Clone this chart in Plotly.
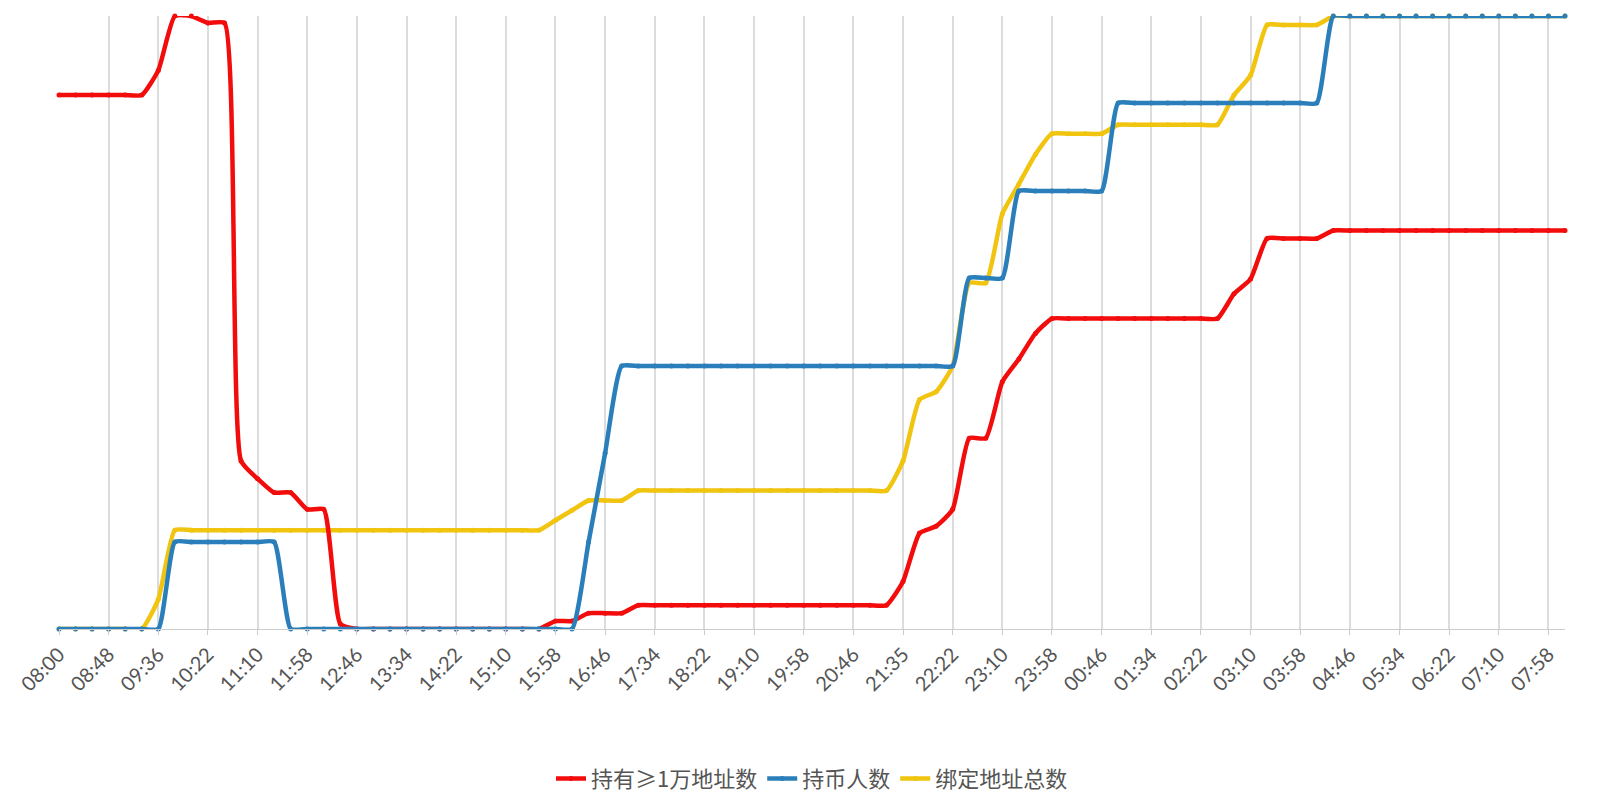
import plotly.graph_objects as go

tick_labels = ["08:00","08:48","09:36","10:22","11:10","11:58","12:46","13:34","14:22","15:10",
               "15:58","16:46","17:34","18:22","19:10","19:58","20:46","21:35","22:22","23:10",
               "23:58","00:46","01:34","02:22","03:10","03:58","04:46","05:34","06:22","07:10","07:58"]
tick_positions = [3*i for i in range(len(tick_labels))]

red = [540,540,540,540,540,540,565,620,620,613,613,170,152,138,138,121,121,5,0,0,
       0,0,0,0,0,0,0,0,0,0,8,8,16,16,16,24,24,24,24,24,
       24,24,24,24,24,24,24,24,24,24,24,48,97,104,121,193,193,250,273,299,
       314,314,314,314,314,314,314,314,314,314,314,339,354,395,395,395,395,403,403,403,
       403,403,403,403,403,403,403,403,403,403,403,403]
blue = [0,0,0,0,0,0,0,88,88,88,88,88,88,88,0,0,0,0,0,0,
        0,0,0,0,0,0,0,0,0,0,0,0,88,178,266,266,266,266,266,266,
        266,266,266,266,266,266,266,266,266,266,266,266,266,266,266,355,355,355,443,443,
        443,443,443,443,532,532,532,532,532,532,532,532,532,532,532,532,532,620,620,620,
        620,620,620,620,620,620,620,620,620,620,620,620]
yellow = [0,0,0,0,0,0,30,100,100,100,100,100,100,100,100,100,100,100,100,100,
          100,100,100,100,100,100,100,100,100,100,110,120,130,130,130,140,140,140,140,140,
          140,140,140,140,140,140,140,140,140,140,140,170,232,240,266,350,350,420,450,480,
          501,501,501,501,510,510,510,510,510,510,510,540,560,611,611,611,611,620,620,620,
          620,620,620,620,620,620,620,620,620,620,620,620]

names = ["持有≥1万地址数", "持币人数", "绑定地址总数"]
colors = ["#f20c0c", "#2a7fbb", "#f1c40f"]
series = [red, blue, yellow]
draw_order = [2, 0, 1]  # yellow under, blue on top

fig = go.Figure()
for k in draw_order:
    vals = series[k]
    fig.add_trace(go.Scatter(
        x=list(range(len(vals))), y=vals, name=names[k], legendrank=k + 1,
        mode="lines+markers",
        line=dict(color=colors[k], width=4.5, shape="spline", smoothing=0.5),
        marker=dict(size=5, color=colors[k]), cliponaxis=False))

fig.update_layout(
    width=1600, height=800, paper_bgcolor="white", plot_bgcolor="white",
    margin=dict(l=43, r=43, t=8, b=170),
    font=dict(family="Noto Sans CJK SC, Lato, sans-serif", size=20, color="#555"),
    showlegend=True,
    legend=dict(orientation="h", x=0.5, xanchor="center", y=-0.21, yanchor="top",
                font=dict(size=22, color="#555"), traceorder="normal"),
    xaxis=dict(range=[0, 91], tickvals=tick_positions, ticktext=tick_labels,
               tickangle=-45, showgrid=True, gridcolor="#dcdcdc", gridwidth=1.5,
               showline=True, linecolor="#ccc", ticks="outside", tickcolor="#ccc",
               ticklabeloverflow="allow",
               tickfont=dict(family="Lato, sans-serif", size=20, color="#555"), zeroline=False),
    yaxis=dict(range=[0, 620], visible=False),
)
fig.write_html("out.html")
